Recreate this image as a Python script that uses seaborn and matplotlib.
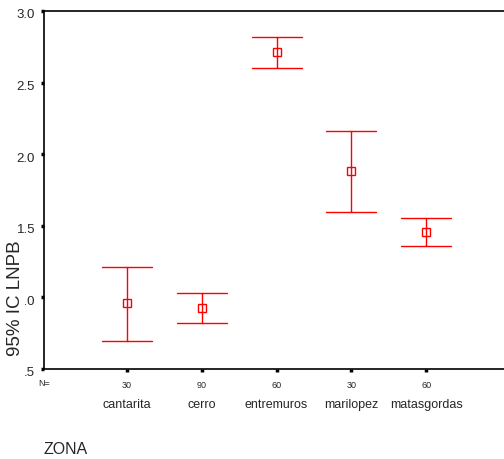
import pandas as pd
import matplotlib
matplotlib.use("Agg")
import matplotlib.pyplot as plt
import matplotlib.transforms as mtransforms
import seaborn as sns

zonas = ['cantarita', 'cerro', 'entremuros', 'marilopez', 'matasgordas']
n_casos = [30, 90, 60, 30, 60]
media = [0.962, 0.927, 2.713, 1.880, 1.459]
ic_inf = [0.696, 0.822, 2.601, 1.599, 1.361]
ic_sup = [1.214, 1.032, 2.818, 2.160, 1.557]

# long table: lower / mean / upper per zone -> median = mean, min/max = CI
rows = []
for z, lo, m, hi in zip(zonas, ic_inf, media, ic_sup):
    for v in (lo, m, hi):
        rows.append({'ZONA': z, 'LNPB': v})
df = pd.DataFrame(rows)

sns.set_style('white')
plt.rcParams['font.family'] = ['Liberation Sans', 'DejaVu Sans']

fig = plt.figure(figsize=(5.04, 4.59), dpi=100)
ax = fig.add_axes([44/504, 1-369/459, 1-44/504, (369-11)/459])

sns.pointplot(data=df, x='ZONA', y='LNPB', order=zonas, estimator='median',
              errorbar=lambda v: (v.min(), v.max()), color='red',
              linestyle='none', markers='s', markersize=6,
              markerfacecolor='white', markeredgewidth=1,
              capsize=0.67, err_kws={'linewidth': 1}, ax=ax)

ax.set_ylim(0.5, 3.0)
ax.set_xlim(-1.11, 5.04)
ax.set_yticks([0.5, 1.0, 1.5, 2.0, 2.5, 3.0])
ax.set_yticklabels(['.5', '1.0', '1.5', '2.0', '2.5', '3.0'], fontsize=9.5)
ax.set_xticks(range(len(zonas)))
ax.set_xticklabels([str(n) for n in n_casos], fontsize=6.5)
ax.tick_params(axis='both', direction='out', length=2.5, width=2.5, color='black',
               bottom=True, left=True)
ax.tick_params(axis='x', pad=6)
ax.tick_params(axis='y', pad=4)
shift = mtransforms.ScaledTranslation(0, -3/100, fig.dpi_scale_trans)
for lbl in ax.get_yticklabels():
    lbl.set_transform(lbl.get_transform() + shift)

for s in ['left', 'bottom', 'top']:
    ax.spines[s].set_color('black')
    ax.spines[s].set_linewidth(1.2)
ax.spines['right'].set_visible(False)

ax.set_xlabel('')
ax.set_ylabel('')

trans = mtransforms.blended_transform_factory(ax.transData, fig.transFigure)
for i, z in enumerate(zonas):
    ax.text(i, 1-405/459, z, transform=trans, ha='center', va='center', fontsize=9)

fig.text(44/504, 1-383/459, 'N=', ha='center', va='center', fontsize=6.5)
fig.text(44/504, 1-449/459, 'ZONA', ha='left', va='center', fontsize=11.5)
fig.text(16/504, 1-298/459, '95% IC LNPB', rotation=90, ha='center', va='center',
         fontsize=13.5, bbox=dict(facecolor='white', edgecolor='none', pad=0.5))

fig.savefig('out.png', dpi=100)
